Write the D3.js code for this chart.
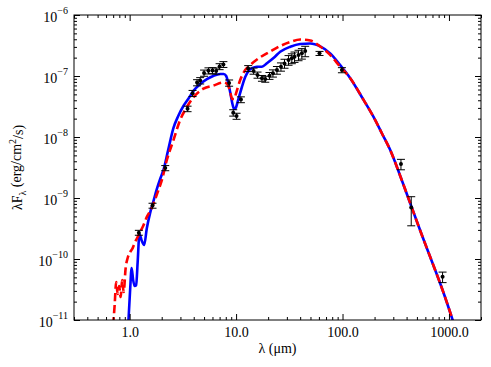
<!DOCTYPE html>
<html>
<head>
<meta charset="utf-8">
<script src="https://cdn.jsdelivr.net/npm/d3@7"></script>
<style>
body { margin: 0; background: #fff; }
svg text { font-family: "Liberation Serif", "DejaVu Serif", serif; fill: #000; }
</style>
</head>
<body>
<div id="chart"></div>
<script>
// Observed photometry (wavelength in micron, lambda*F_lambda and its error)
const obsLam  = [1.22, 1.64, 2.16, 3.5, 3.9, 4.3, 4.6, 5.0, 5.5, 6.0, 6.5, 7.0, 7.6, 8.6, 9.4, 10.1, 11.1,
                 13.0, 14.6, 15.9, 17.5, 18.8, 20.6, 22.2, 24.2, 26.4, 28.5, 31.1, 33.4, 35.4, 38.6, 41.5, 44.6,
                 60.8, 98.7, 354, 442, 871];
const obsFlux = [2.7e-10, 7.5e-10, 3.1e-9, 2.9e-8, 5.2e-8, 7.8e-8, 8.4e-8, 1.12e-7, 1.22e-7, 1.23e-7, 1.21e-7, 1.43e-7, 1.55e-7, 7.7e-8, 2.5e-8, 2.2e-8, 4.1e-8,
                 1.33e-7, 1.21e-7, 1.04e-7, 9.2e-8, 8.9e-8, 1.01e-7, 1.11e-7, 1.25e-7, 1.42e-7, 1.61e-7, 1.83e-7, 1.95e-7, 2.07e-7, 2.21e-7, 2.35e-7, 2.57e-7,
                 2.35e-7, 1.25e-7, 3.6e-9, 7.0e-10, 5.1e-11];
const obsErr  = [2.5e-11, 7e-11, 3e-10, 3e-9, 6e-9, 9e-9, 1e-8, 1.3e-8, 1.4e-8, 1.4e-8, 1.4e-8, 1.6e-8, 1.7e-8, 9e-9, 3e-9, 2.5e-9, 4.5e-9,
                 1.5e-8, 1.4e-8, 1.2e-8, 1e-8, 1e-8, 1.3e-8, 1.5e-8, 1.8e-8, 2.2e-8, 2.7e-8, 3.3e-8, 3.6e-8, 4e-8, 4.3e-8, 4.6e-8, 5e-8,
                 1.8e-8, 1.2e-8, 7e-10, 3.5e-10, 1e-11];

// Model SED, blue solid
const blueLam  = [0.96, 1.01, 1.044, 1.079, 1.114, 1.151, 1.189, 1.236, 1.302, 1.369, 1.451, 1.558, 1.674, 1.802, 1.935,
                  2.078, 2.30, 2.58, 2.86, 3.20, 3.55, 3.98, 4.60, 5.32, 6.09, 7.09, 7.65, 8.07, 8.48, 8.90, 9.29, 9.60, 9.91,
                  10.46, 11.34, 12.18, 13.08, 14.17, 15.69, 17.48, 19.48, 22.46, 25.97, 32.3, 40.0, 49.7, 61.7, 76.6, 95.1,
                  118.2, 157.6, 195.6, 236, 280.7, 348.5, 442, 561, 712, 884, 1098];
const blueFlux = [6e-12, 3.1e-11, 7.1e-11, 4.5e-11, 3.6e-11, 3.7e-11, 8.9e-11, 2.57e-10, 1.97e-10, 1.70e-10, 3.22e-10, 5.7e-10, 8.9e-10, 1.41e-9, 2.05e-9,
                  2.88e-9, 6.1e-9, 1.41e-8, 2.21e-8, 3.22e-8, 4.2e-8, 5.7e-8, 7.4e-8, 8.9e-8, 1.0e-7, 1.08e-7, 1.08e-7, 1.0e-7, 7.4e-8, 4.9e-8, 3.35e-8, 2.88e-8, 2.99e-8,
                  4.05e-8, 6.6e-8, 9.6e-8, 1.21e-7, 1.35e-7, 1.42e-7, 1.42e-7, 1.62e-7, 1.97e-7, 2.50e-7, 3.02e-7, 3.35e-7, 3.41e-7, 3.05e-7, 2.35e-7, 1.51e-7,
                  9.2e-8, 4.05e-8, 2.13e-8, 1.12e-8, 6.1e-9, 2.3e-9, 7.4e-10, 2.38e-10, 7.98e-11, 2.88e-11, 9.3e-12];

// Model SED, red dashed
const redLam  = [0.70, 0.723, 0.747, 0.771, 0.797, 0.823, 0.850, 0.878, 0.917, 0.958, 1.011, 1.067, 1.114, 1.176, 1.255, 1.339,
                 1.451, 1.617, 1.737, 1.865, 2.007, 2.236, 2.58, 2.98, 3.45, 3.98, 4.94, 6.13, 7.61, 8.25, 8.71, 9.19, 9.60,
                 10.02, 10.93, 12.18, 13.57, 16.24, 20.9, 25.97, 32.3, 40.0, 49.7, 61.7, 73.9, 95.1,
                 118.2, 157.6, 195.6, 236, 280.7, 348.5, 442, 561, 712, 884, 1098];
const redFlux = [8.3e-12, 1.76e-11, 4.2e-11, 2.67e-11, 3.6e-11, 2.38e-11, 4.5e-11, 2.88e-11, 7.1e-11, 1.04e-10, 1.30e-10, 1.51e-10, 1.83e-10, 2.21e-10, 2.77e-10, 3.48e-10,
                 4.9e-10, 6.9e-10, 9.6e-10, 1.35e-9, 1.97e-9, 4.2e-9, 8.9e-9, 1.9e-8, 3.1e-8, 4.5e-8, 6.2e-8, 7.0e-8, 7.8e-8, 7.4e-8, 5.9e-8, 4.2e-8, 4.2e-8,
                 5.3e-8, 8.6e-8, 1.25e-7, 1.51e-7, 1.94e-7, 2.52e-7, 3.10e-7, 3.6e-7, 3.96e-7, 3.82e-7, 3.05e-7, 2.35e-7, 1.42e-7,
                 9.2e-8, 4.05e-8, 2.13e-8, 1.12e-8, 6.1e-9, 2.3e-9, 7.4e-10, 2.38e-10, 7.98e-11, 2.88e-11, 9.3e-12];

// Axis ticks
const xMajor = [1, 10, 100, 1000];
const xTickLabels = ["1.0", "10.0", "100.0", "1000.0"];
const yMajor = [1e-11, 1e-10, 1e-9, 1e-8, 1e-7, 1e-6];
const yTickExps = ["\u221211", "\u221210", "\u22129", "\u22128", "\u22127", "\u22126"];

const W = 491, H = 367;
const margin = {top: 15, right: 10, bottom: 47, left: 74};
const width = W - margin.left - margin.right;
const height = H - margin.top - margin.bottom;

const svg = d3.select("#chart")
    .append("svg")
    .attr("width", W)
    .attr("height", H);

const g = svg.append("g")
    .attr("transform", `translate(${margin.left},${margin.top})`);

// Scales
const x = d3.scaleLog().domain([0.3, 2000]).range([0, width]);
const y = d3.scaleLog().domain([1e-11, 1e-6]).range([height, 0]);

const isMajor = v => Math.abs(Math.log10(v) - Math.round(Math.log10(v))) < 1e-6;
const xMinor = x.ticks().filter(v => !isMajor(v));
const yMinor = y.ticks().filter(v => !isMajor(v));

// Clip for the model curves
svg.append("defs").append("clipPath").attr("id", "clip")
    .append("rect").attr("width", width).attr("height", height);

const line = d3.line()
    .x(d => x(d[0]))
    .y(d => y(d[1]))
    .curve(d3.curveMonotoneX);

const curves = g.append("g").attr("clip-path", "url(#clip)");

curves.append("path")
    .datum(d3.zip(blueLam, blueFlux))
    .attr("d", line)
    .attr("fill", "none")
    .attr("stroke", "#0000ff")
    .attr("stroke-width", 2.6);

curves.append("path")
    .datum(d3.zip(redLam, redFlux))
    .attr("d", line)
    .attr("fill", "none")
    .attr("stroke", "#ff0000")
    .attr("stroke-width", 2.6)
    .attr("stroke-dasharray", "8,4");

// Error bars and points
const obs = d3.zip(obsLam, obsFlux, obsErr);
const eb = g.append("g");
obs.forEach(([l, f, e]) => {
    const cx = x(l);
    const lo = Math.max(f - e, 1e-13);
    eb.append("line")
        .attr("x1", cx).attr("x2", cx)
        .attr("y1", y(f + e)).attr("y2", y(lo))
        .attr("stroke", "#000").attr("stroke-width", 1);
    [f + e, lo].forEach(v => {
        eb.append("line")
            .attr("x1", cx - 4).attr("x2", cx + 4)
            .attr("y1", y(v)).attr("y2", y(v))
            .attr("stroke", "#000").attr("stroke-width", 1);
    });
    eb.append("circle")
        .attr("cx", cx).attr("cy", y(f))
        .attr("r", 2)
        .attr("fill", "#000");
});

// Axes: ticks point inwards on all four sides
function styleAxis(sel) {
    sel.select(".domain").remove();
    sel.selectAll(".tick line").attr("stroke", "#000").attr("stroke-width", 1);
}

g.append("g").attr("transform", `translate(0,${height})`)
    .call(d3.axisBottom(x).tickValues(xMinor).tickSize(-3).tickFormat(""))
    .call(styleAxis);
g.append("g").attr("transform", `translate(0,${height})`)
    .call(d3.axisBottom(x).tickValues(xMajor).tickSize(-6).tickPadding(7)
        .tickFormat((d, i) => xTickLabels[i]))
    .call(styleAxis)
    .selectAll("text").attr("font-size", 14).attr("font-family", null);

g.append("g")
    .call(d3.axisTop(x).tickValues(xMinor).tickSize(-3).tickFormat(""))
    .call(styleAxis);
g.append("g")
    .call(d3.axisTop(x).tickValues(xMajor).tickSize(-6).tickFormat(""))
    .call(styleAxis);

g.append("g")
    .call(d3.axisLeft(y).tickValues(yMinor).tickSize(-3).tickFormat(""))
    .call(styleAxis);
const yAx = g.append("g")
    .call(d3.axisLeft(y).tickValues(yMajor).tickSize(-6).tickPadding(6).tickFormat(""))
    .call(styleAxis);
yAx.selectAll(".tick text").each(function(d, i) {
    const t = d3.select(this).attr("font-size", 14).attr("dy", "0.45em").attr("font-family", null);
    t.append("tspan").text("10");
    t.append("tspan").attr("font-size", 10).attr("dy", "-0.75em").text(yTickExps[i]);
});

g.append("g").attr("transform", `translate(${width},0)`)
    .call(d3.axisRight(y).tickValues(yMinor).tickSize(-3).tickFormat(""))
    .call(styleAxis);
g.append("g").attr("transform", `translate(${width},0)`)
    .call(d3.axisRight(y).tickValues(yMajor).tickSize(-6).tickFormat(""))
    .call(styleAxis);

// Frame
g.append("rect")
    .attr("width", width).attr("height", height)
    .attr("fill", "none").attr("stroke", "#000").attr("stroke-width", 1);

// Axis titles
g.append("text")
    .attr("x", width / 2).attr("y", height + 33)
    .attr("text-anchor", "middle")
    .attr("font-size", 14)
    .text("\u03bb (\u03bcm)");

const yt = svg.append("text")
    .attr("transform", `translate(22,${margin.top + height / 2}) rotate(-90)`)
    .attr("text-anchor", "middle")
    .attr("font-size", 14);
yt.append("tspan").text("\u03bbF");
yt.append("tspan").attr("font-size", 10).attr("dy", "0.35em").text("\u03bb");
yt.append("tspan").attr("dy", "-0.35em").text(" (erg/cm");
yt.append("tspan").attr("font-size", 10).attr("dy", "-0.5em").text("2");
yt.append("tspan").attr("dy", "0.5em").text("/s)");
</script>
</body>
</html>
